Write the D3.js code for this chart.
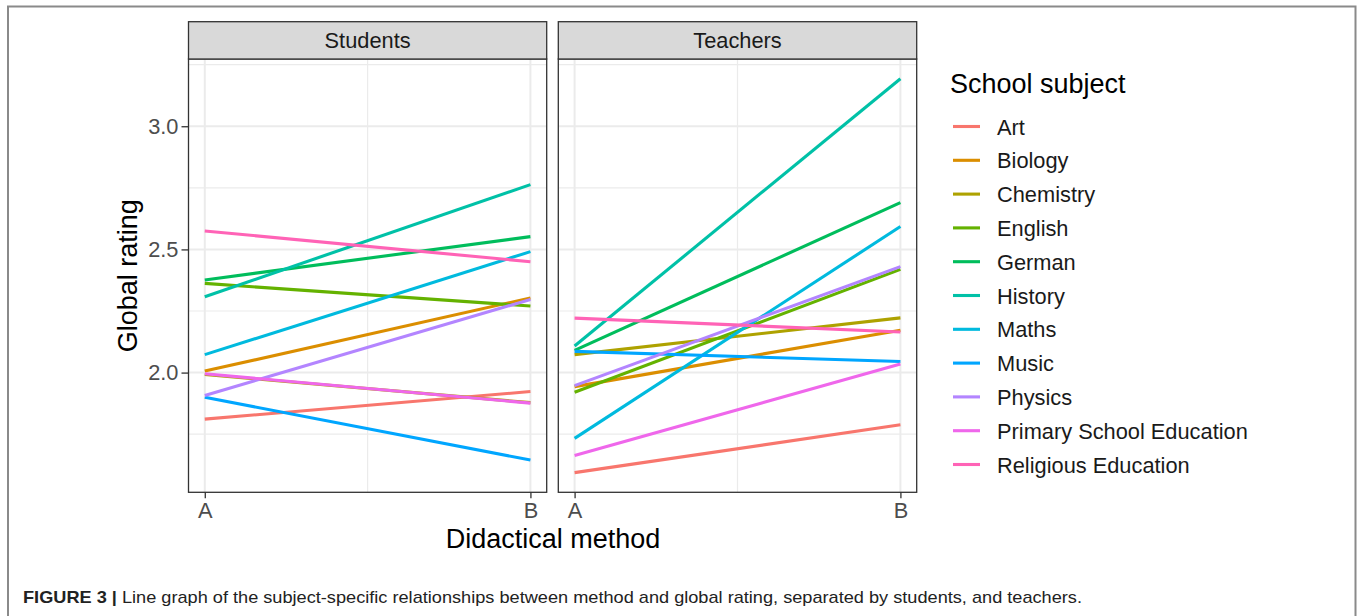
<!DOCTYPE html>
<html>
<head>
<meta charset="utf-8">
<script src="https://cdn.jsdelivr.net/npm/d3@7"></script>
<style>
  body { margin: 0; background: #fff; }
  svg { display: block; font-family: "Liberation Sans", Arial, sans-serif; }
</style>
</head>
<body>
<div class="chart"></div>
<script>
const SUBJECTS = ["Art", "Biology", "Chemistry", "English", "German", "History", "Maths", "Music", "Physics", "Primary School Education", "Religious Education"]
const COLORS = ["#F8766D", "#DB8E00", "#AEA200", "#64B200", "#00BD5C", "#00C1A7", "#00BADE", "#00A6FF", "#B385FF", "#EF67EB", "#FF63B6"]
const PANELS = ["Students", "Teachers"]
const METHODS = ["A", "B"]
const Y_TICKS = [2.0, 2.5, 3.0]
const Y_MINOR = [1.75, 2.25, 2.75, 3.25]

// rating with method A / method B, same order as SUBJECTS
const STUDENTS_A = [1.811, 2.006, 1.992, 2.362, 2.376, 2.308, 2.073, 1.900, 1.907, 1.995, 2.575]
const STUDENTS_B = [1.923, 2.303, 1.878, 2.270, 2.552, 2.763, 2.491, 1.645, 2.297, 1.876, 2.450]
const TEACHERS_A = [1.594, 1.943, 2.073, 1.920, 2.090, 2.108, 1.733, 2.086, 1.947, 1.663, 2.221]
const TEACHERS_B = [1.788, 2.172, 2.222, 2.419, 2.690, 3.193, 2.593, 2.045, 2.430, 2.035, 2.165]

const W = 1360, H = 616;
const PANEL_X = [[188.5, 546.7], [558.3, 916.7]];
const PANEL_TOP = 59, PANEL_BOTTOM = 492.3, STRIP_TOP = 21.7;
const SMALL = 21.8, BIG = 27;

const svg = d3.select(".chart").append("svg").attr("width", W).attr("height", H);

// figure frame
svg.append("path").attr("d", `M8,${H} V6.5 H1355.5 V${H}`)
  .attr("fill", "none").attr("stroke", "#8a8a8a").attr("stroke-width", 2);

const panelData = [
  SUBJECTS.map((s, i) => ({subject: s, color: COLORS[i], vals: [STUDENTS_A[i], STUDENTS_B[i]]})),
  SUBJECTS.map((s, i) => ({subject: s, color: COLORS[i], vals: [TEACHERS_A[i], TEACHERS_B[i]]}))
];

// shared y scale, ggplot-style 5% expansion
const allVals = STUDENTS_A.concat(STUDENTS_B, TEACHERS_A, TEACHERS_B);
const [lo, hi] = d3.extent(allVals);
const pad = (hi - lo) * 0.05;
const yScale = d3.scaleLinear().domain([lo - pad, hi + pad]).range([PANEL_BOTTOM, PANEL_TOP]);

PANELS.forEach((name, p) => {
  const [x0, x1] = PANEL_X[p];
  const xScale = d3.scaleLinear().domain([0.95, 2.05]).range([x0, x1]);
  const g = svg.append("g");

  // grid
  g.selectAll(".ymin").data(Y_MINOR.filter(v => yScale(v) > PANEL_TOP)).join("line")
    .attr("x1", x0).attr("x2", x1).attr("y1", d => yScale(d)).attr("y2", d => yScale(d))
    .attr("stroke", "#EBEBEB").attr("stroke-width", 1.2);
  g.selectAll(".ymaj").data(Y_TICKS).join("line")
    .attr("x1", x0).attr("x2", x1).attr("y1", d => yScale(d)).attr("y2", d => yScale(d))
    .attr("stroke", "#EBEBEB").attr("stroke-width", 2);
  g.selectAll(".xgrid").data([1, 1.5, 2]).join("line")
    .attr("x1", d => xScale(d)).attr("x2", d => xScale(d)).attr("y1", PANEL_TOP).attr("y2", PANEL_BOTTOM)
    .attr("stroke", "#EBEBEB").attr("stroke-width", d => d === 1.5 ? 1.2 : 2);

  // lines
  const line = d3.line().x((d, i) => xScale(i + 1)).y(d => yScale(d));
  g.selectAll(".series").data(panelData[p]).join("path")
    .attr("d", d => line(d.vals))
    .attr("fill", "none").attr("stroke", d => d.color).attr("stroke-width", 3.1);

  // panel border
  g.append("rect").attr("x", x0).attr("y", PANEL_TOP).attr("width", x1 - x0).attr("height", PANEL_BOTTOM - PANEL_TOP)
    .attr("fill", "none").attr("stroke", "#333333").attr("stroke-width", 1.3);

  // strip
  g.append("rect").attr("x", x0).attr("y", STRIP_TOP).attr("width", x1 - x0).attr("height", PANEL_TOP - STRIP_TOP)
    .attr("fill", "#D9D9D9").attr("stroke", "#333333").attr("stroke-width", 1.3);
  g.append("text").attr("x", (x0 + x1) / 2).attr("y", PANEL_TOP - 11)
    .attr("text-anchor", "middle").attr("font-size", SMALL).attr("fill", "#1A1A1A").text(name);

  // x axis
  const xAxis = d3.axisBottom(xScale).tickValues([1, 2]).tickFormat((d, i) => METHODS[i])
    .tickSize(6).tickPadding(4);
  const ax = g.append("g").attr("transform", `translate(0,${PANEL_BOTTOM})`).call(xAxis);
  ax.select(".domain").remove();
  ax.selectAll(".tick line").attr("stroke", "#333333").attr("stroke-width", 1.3);
  ax.selectAll(".tick text").attr("font-size", SMALL).attr("fill", "#4D4D4D")
    .attr("font-family", "Liberation Sans, Arial, sans-serif");

  // y axis only on first panel
  if (p === 0) {
    const yAxis = d3.axisLeft(yScale).tickValues(Y_TICKS).tickFormat(d3.format(".1f")).tickSize(7).tickPadding(3);
    const ay = g.append("g").attr("transform", `translate(${x0},0)`).call(yAxis);
    ay.select(".domain").remove();
    ay.selectAll(".tick line").attr("stroke", "#333333").attr("stroke-width", 1.3);
    ay.selectAll(".tick text").attr("font-size", SMALL).attr("fill", "#4D4D4D")
      .attr("font-family", "Liberation Sans, Arial, sans-serif");
  }
});

// axis titles
svg.append("text").attr("x", 553).attr("y", 548).attr("text-anchor", "middle")
  .attr("font-size", BIG).attr("fill", "#000").text("Didactical method");
svg.append("text").attr("transform", `translate(137,${(PANEL_TOP + PANEL_BOTTOM) / 2}) rotate(-90)`)
  .attr("text-anchor", "middle").attr("font-size", BIG).attr("fill", "#000").text("Global rating");

// legend
const legend = svg.append("g").attr("transform", "translate(950,0)");
legend.append("text").attr("x", 0).attr("y", 93).attr("font-size", BIG).attr("fill", "#000").text("School subject");
const rowY = d3.scalePoint().domain(SUBJECTS).range([126.5, 464.5]);
const items = legend.selectAll(".item").data(SUBJECTS).join("g")
  .attr("transform", d => `translate(0,${rowY(d)})`);
items.append("line").attr("x1", 3).attr("x2", 30).attr("stroke", (d, i) => COLORS[i]).attr("stroke-width", 3.1);
items.append("text").attr("x", 47).attr("y", 8).attr("font-size", SMALL).attr("fill", "#1A1A1A").text(d => d);

// caption
const cap = svg.append("text").attr("x", 23).attr("y", 603).attr("font-size", 17).attr("fill", "#222")
  .attr("textLength", 1059).attr("lengthAdjust", "spacingAndGlyphs");
cap.append("tspan").attr("font-weight", "bold").text("FIGURE 3 | ");
cap.append("tspan").text("Line graph of the subject-specific relationships between method and global rating, separated by students, and teachers.");
</script>
</body>
</html>
